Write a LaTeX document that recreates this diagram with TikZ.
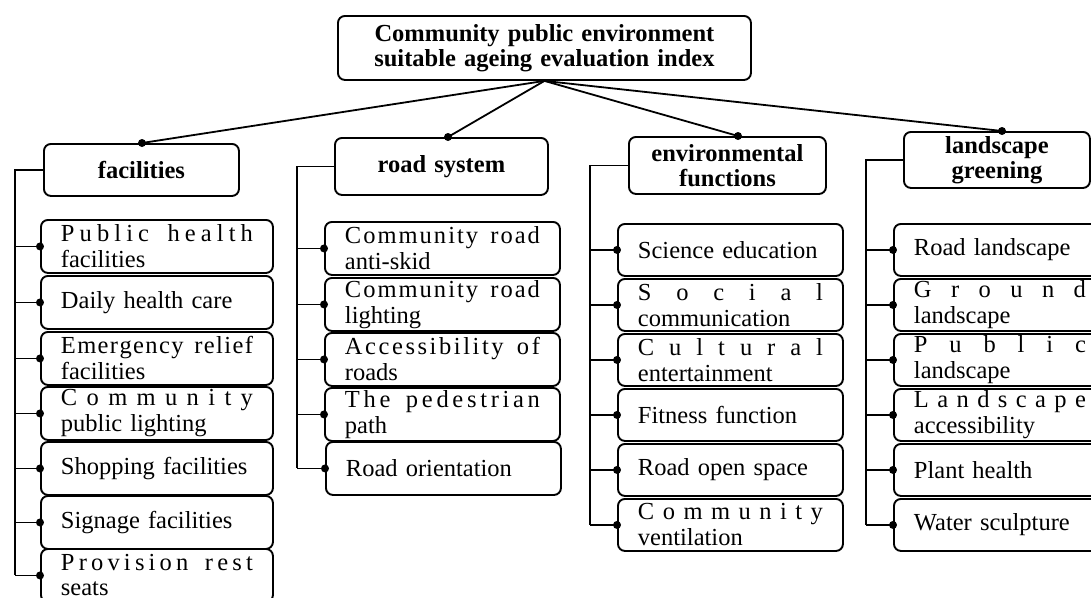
\documentclass[tikz,border=0pt]{standalone}
\usepackage{fontspec}
\setmainfont{Liberation Serif}
\usetikzlibrary{calc}
\ExplSyntaxOn
\bool_new:N \l_dist_first_bool
\tl_new:N \l_dist_tl
\NewDocumentCommand\distline{m}{
  \tl_clear:N \l_dist_tl
  \bool_set_true:N \l_dist_first_bool
  \seq_set_split:Nnn \l_tmpa_seq {~} {#1}
  \seq_map_inline:Nn \l_tmpa_seq {
    \bool_if:NF \l_dist_first_bool { \tl_put_right:Nn \l_dist_tl { \hfil \c_space_tl } }
    \tl_map_inline:nn {##1} {
      \bool_if:NTF \l_dist_first_bool
        { \bool_set_false:N \l_dist_first_bool }
        { \tl_put_right:Nn \l_dist_tl { \hfil } }
      \tl_put_right:Nn \l_dist_tl { ####1 }
    }
  }
  \makebox[\linewidth][s]{\tl_use:N \l_dist_tl}
}
\ExplSyntaxOff
\tikzset{
  itembox/.style={draw, line width=1.9pt, rounded corners=7pt, anchor=north west,
    inner xsep=20pt, inner ysep=0pt, font=\fontsize{24.5}{26}\selectfont, align=left},
  hdrbox/.style={draw, line width=1.9pt, rounded corners=7pt, anchor=north west,
    inner sep=0pt, font=\bfseries\fontsize{24.5}{25}\selectfont, align=center},
  conn/.style={line width=1.8pt},
}
\begin{document}
\begin{tikzpicture}[x=1pt,y=-1pt]
\useasboundingbox (0,0) rectangle (1091,597);

% root
\node[hdrbox, text width=413pt, minimum height=64pt] (root) at (337,15)
  {Community public environment\\suitable ageing evaluation index};

% headers
\node[hdrbox, text width=195pt, minimum height=52pt] (fh) at (43,143) {facilities};
\node[hdrbox, text width=213pt, minimum height=57pt] (rh) at (334,137) {road system};
\node[hdrbox, text width=197pt, minimum height=57pt] (eh) at (628,136) {environmental\\functions};
\node[hdrbox, text width=186pt, minimum height=56pt] (lh) at (903,131) {landscape\\greening};

% header dots
\coordinate (fdot) at (142,143);
\coordinate (rdot) at (448,137);
\coordinate (edot) at (738,136);
\coordinate (ldot) at (1002,131);
\foreach \d in {fdot,rdot,edot,ldot}{
  \draw[conn] (root.south) -- (\d);
  \fill (\d) circle[radius=4pt];
}

% facilities children
\node[itembox, text width=192pt, minimum height=53pt] (f1) at (40,219) {\distline{Public health}\\facilities};
\node[itembox, text width=192pt, minimum height=53pt] (f2) at (40,275) {Daily health care};
\node[itembox, text width=192pt, minimum height=53pt] (f3) at (40,331) {\distline{Emergency relief}\\facilities};
\node[itembox, text width=192pt, minimum height=53pt] (f4) at (40,386) {\distline{Community}\\public lighting};
\node[itembox, text width=192pt, minimum height=53pt] (f5) at (40,441) {Shopping facilities};
\node[itembox, text width=192pt, minimum height=53pt] (f6) at (40,495) {Signage facilities};
\node[itembox, text width=192pt, minimum height=53pt] (f7) at (40,548) {\distline{Provision rest}\\[-1pt]seats};

% road system children
\node[itembox, text width=195pt, minimum height=53pt] (r1) at (324,221) {\distline{Community road}\\anti-skid};
\node[itembox, text width=195pt, minimum height=53pt] (r2) at (324,277) {\distline{Community road}\\lighting};
\node[itembox, text width=195pt, minimum height=53pt] (r3) at (324,332) {\distline{Accessibility of}\\roads};
\node[itembox, text width=195pt, minimum height=53pt] (r4) at (324,387) {\distline{The pedestrian}\\path};
\node[itembox, text width=195pt, minimum height=53pt] (r5) at (325,441) {Road orientation};

% environmental functions children
\node[itembox, text width=185pt, minimum height=52pt] (e1) at (617,223) {Science education};
\node[itembox, text width=185pt, minimum height=52pt] (e2) at (617,278) {\distline{Social}\\communication};
\node[itembox, text width=185pt, minimum height=52pt] (e3) at (617,333) {\distline{Cultural}\\entertainment};
\node[itembox, text width=185pt, minimum height=52pt] (e4) at (617,388) {Fitness function};
\node[itembox, text width=185pt, minimum height=52pt] (e5) at (617,443) {Road open space};
\node[itembox, text width=185pt, minimum height=52pt] (e6) at (617,498) {\distline{Community}\\ventilation};

% landscape greening children
\node[itembox, text width=172pt, minimum height=52pt] (l1) at (893,223) {Road landscape};
\node[itembox, text width=172pt, minimum height=52pt] (l2) at (893,278) {\distline{Ground}\\landscape};
\node[itembox, text width=172pt, minimum height=52pt] (l3) at (893,333) {\distline{Public}\\landscape};
\node[itembox, text width=172pt, minimum height=52pt] (l4) at (893,388) {\distline{Landscape}\\accessibility};
\node[itembox, text width=172pt, minimum height=52pt] (l5) at (893,443) {Plant health};
\node[itembox, text width=172pt, minimum height=52pt] (l6) at (893,498) {Water sculpture};

% branch lines
\coordinate (fx) at (15,0);
\coordinate (rx) at (297,0);
\coordinate (ex) at (590,0);
\coordinate (lx) at (866,0);

\draw[conn] (fh.west) -| (fx |- f7.west);
\foreach \c in {f1,f2,f3,f4,f5,f6,f7}{
  \draw[conn] (fx |- \c.west) -- (\c.west);
  \fill (\c.west) circle[radius=4pt];
}
\draw[conn] (rh.west) -| (rx |- r5.west);
\foreach \c in {r1,r2,r3,r4,r5}{
  \draw[conn] (rx |- \c.west) -- (\c.west);
  \fill (\c.west) circle[radius=4pt];
}
\draw[conn] (eh.west) -| (ex |- e6.west);
\foreach \c in {e1,e2,e3,e4,e5,e6}{
  \draw[conn] (ex |- \c.west) -- (\c.west);
  \fill (\c.west) circle[radius=4pt];
}
\draw[conn] (lh.west) -| (lx |- l6.west);
\foreach \c in {l1,l2,l3,l4,l5,l6}{
  \draw[conn] (lx |- \c.west) -- (\c.west);
  \fill (\c.west) circle[radius=4pt];
}
\end{tikzpicture}
\end{document}
